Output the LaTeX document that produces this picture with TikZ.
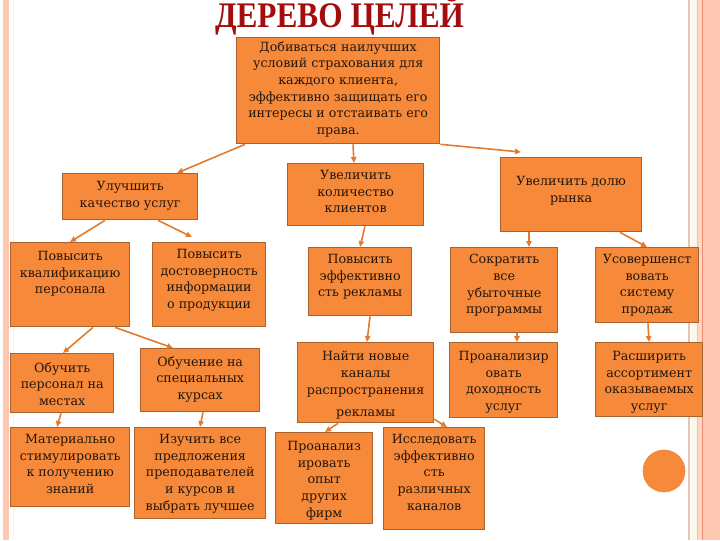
\documentclass[tikz,border=0pt]{standalone}
\usepackage{fontspec}
\setmainfont{DejaVu Serif}
\newfontfamily\titlefont{Liberation Serif}
\usetikzlibrary{calc,arrows.meta}
\definecolor{boxfill}{HTML}{F68A3A}
\definecolor{boxline}{HTML}{A8622E}
\definecolor{conn}{HTML}{E37A2E}
\definecolor{txtc}{HTML}{24160B}
\definecolor{ttl}{HTML}{A30D0D}
\definecolor{band}{HTML}{FFC8B2}
\definecolor{bandline}{HTML}{F08A6A}
\definecolor{thinline}{HTML}{E6C4B4}
\definecolor{cream}{HTML}{FFF6EA}
\tikzset{
  gbox/.style={draw=boxline, fill=boxfill, line width=1pt, inner sep=0pt},
  gtxt/.style={font=\fontsize{9.5}{12.5}\selectfont, text=txtc, align=center, inner sep=0pt},
  conn/.style={draw=conn, line width=1.2pt, -{Triangle[length=4.5pt,width=4pt]}},
}
\newcommand\gbox[7]{%
  \node[gbox, anchor=north west, minimum width={(#4-#2)*0.75pt}, minimum height={(#5-#3)*0.75pt}] (#1) at (#2,#3) {};
  \node[gtxt, anchor=north] (#1t) at ($(#1.north)+(0,#6)$) {#7};}
\begin{document}
\begin{tikzpicture}[x=0.75pt,y=-0.75pt]
\useasboundingbox (0,0) rectangle (720,540);
% decorative bands
\fill[band] (3,0) rectangle (9,540);
\draw[cream!80!yellow, line width=0.6pt] (13,0) -- (13,540);
\draw[thinline, line width=0.8pt] (689,0) -- (689,540);
\fill[cream] (692,0) rectangle (697,540);
\draw[thinline, line width=0.8pt] (697.5,0) -- (697.5,540);
\fill[band!70] (698,0) rectangle (702,540);
\fill[band] (703,0) rectangle (720,540);
\draw[bandline, line width=1pt] (702.5,0) -- (702.5,540);
% title
\node[font=\titlefont\bfseries\fontsize{27}{29}\selectfont, text=ttl, anchor=base, xscale=0.87, inner sep=0pt] (title) at (339.5,27.5) {ДЕРЕВО ЦЕЛЕЙ};
% boxes
\gbox{top}{236}{37}{439}{143}{4}{Добиваться наилучших\\условий страхования для\\каждого клиента,\\эффективно защищать его\\интересы и отстаивать его\\права.}
\gbox{ul}{62}{173}{197}{219}{8}{Улучшить\\качество услуг}
\gbox{uk}{287}{163}{423}{225}{7}{Увеличить\\количество\\клиентов}
\gbox{ud}{500}{157}{641}{231}{19}{Увеличить долю\\рынка}
\gbox{pk}{10}{242}{129}{326}{9}{Повысить\\квалификацию\\персонала}
\gbox{pd}{152}{242}{265}{326}{7}{Повысить\\достоверность\\информации\\о продукции}
\gbox{pe}{308}{247}{411}{315}{7}{Повысить\\эффективно\\сть рекламы}
\gbox{sk}{450}{247}{557}{332}{7}{Сократить\\все\\убыточные\\программы}
\gbox{us}{595}{247}{698}{322}{7}{Усовершенст\\вовать\\систему\\продаж}
\gbox{ob}{10}{353}{113}{412}{9}{Обучить\\персонал на\\местах}
\gbox{ok}{140}{348}{259}{411}{8}{Обучение на\\специальных\\курсах}
\gbox{nn}{297}{342}{433}{422}{9}{Найти новые\\каналы\\распространения\\[4pt]рекламы}
\gbox{pa}{449}{342}{557}{417}{9}{Проанализир\\овать\\доходность\\услуг}
\gbox{ra}{595}{342}{702}{416}{9}{Расширить\\ассортимент\\оказываемых\\услуг}
\gbox{mat}{10}{427}{129}{506}{7}{Материально\\стимулировать\\к получению\\знаний}
\gbox{iz}{134}{427}{265}{518}{7}{Изучить все\\предложения\\преподавателей\\и курсов и\\выбрать лучшее}
\gbox{po}{275}{432}{372}{523}{9}{Проанализ\\ировать\\опыт\\других\\фирм}
\gbox{is}{383}{427}{484}{529}{7}{Исследовать\\эффективно\\сть\\различных\\каналов}
% circle
\node[circle, fill=boxfill, draw=boxfill!85!brown, line width=0.5pt, minimum size=31.5pt, inner sep=0pt] (dot) at (664,471) {};
% connectors
\draw[conn] ($(top.south west)+(9,0)$) -- ($(ul.north west)+(115,0)$);
\draw[conn] ($(top.south west)+(117,0)$) -- ($(uk.north west)+(67,0)$);
\draw[conn] ($(top.south east)+(0,0)$) -- ($(ud.north west)+(21,-5)$);
\draw[conn] ($(ul.south west)+(43,0)$) -- ($(pk.north west)+(60,0)$);
\draw[conn] ($(ul.south west)+(96,0)$) -- ($(pd.north west)+(40,-5)$);
\draw[conn] ($(uk.south west)+(78,0)$) -- ($(pe.north west)+(52,0)$);
\draw[conn] ($(ud.south west)+(29,0)$) -- ($(sk.north west)+(79,0)$);
\draw[conn] ($(ud.south west)+(120,0)$) -- ($(us.north west)+(52,0)$);
\draw[conn] ($(pk.south west)+(83,0)$) -- ($(ob.north west)+(53,0)$);
\draw[conn] ($(pk.south west)+(105,0)$) -- ($(ok.north west)+(33,0)$);
\draw[conn] ($(ob.south west)+(51,0)$) -- ($(mat.north west)+(47,0)$);
\draw[conn] ($(ok.south west)+(63,0)$) -- ($(iz.north west)+(66,0)$);
\draw[conn] ($(pe.south west)+(62,0)$) -- ($(nn.north west)+(70,0)$);
\draw[conn] ($(sk.south west)+(67,0)$) -- ($(pa.north west)+(68,0)$);
\draw[conn] ($(us.south west)+(53,0)$) -- ($(ra.north west)+(54,0)$);
\draw[conn] ($(nn.south west)+(41,0)$) -- ($(po.north west)+(50,0)$);
\draw[conn] ($(nn.south east)+(0,-4)$) -- ($(is.north west)+(64,0)$);
\end{tikzpicture}
\end{document}
